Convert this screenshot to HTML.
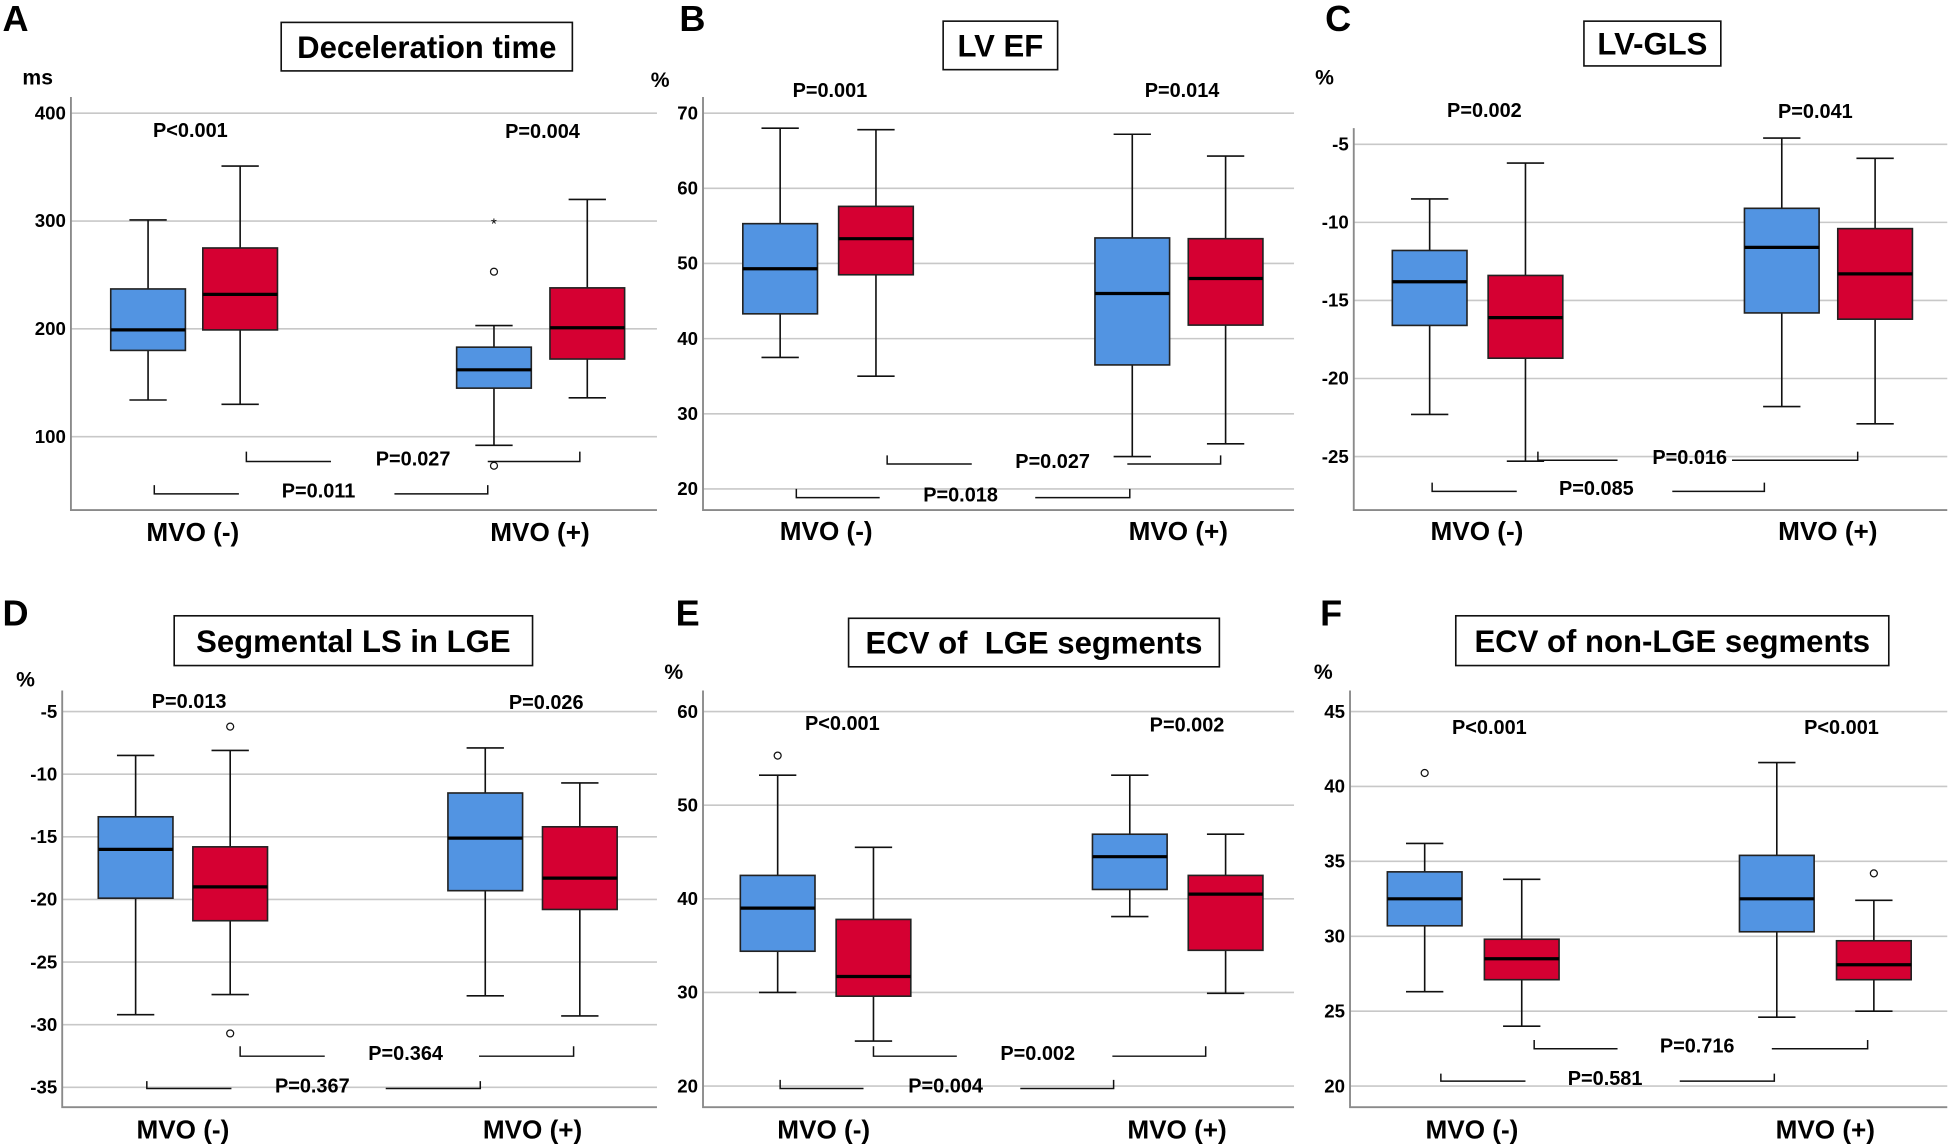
<!DOCTYPE html>
<html><head><meta charset="utf-8"><style>
html,body{margin:0;padding:0;background:#fff;}
svg{display:block;font-family:"Liberation Sans",Arial,sans-serif;font-weight:bold;}
text{white-space:pre;}
</style></head><body>
<svg id="fig" width="1951" height="1147" viewBox="0 0 1568 922" preserveAspectRatio="none" xmlns="http://www.w3.org/2000/svg"></svg>
<script>
// ---- data ----
const groups=["MVO (-)","MVO (+)"];
const ticksA=[100,200,300,400];
const blueA=[[134,180,199,237,301],[92,145,162,183,203]];
const redA=[[130,199,232,275,351],[136,172,201,238,320]];
const outA=[[1,0,253,"o"],[1,0,300,"*"],[1,0,73,"o"]];
const pA=["P<0.001","P=0.004","P=0.027","P=0.011"];

const ticksB=[20,30,40,50,60,70];
const blueB=[[37.5,43.3,49.3,55.3,68],[24.3,36.5,46,53.4,67.2]];
const redB=[[35,48.5,53.3,57.6,67.8],[26,41.8,48,53.3,64.3]];
const outB=[];
const pB=["P=0.001","P=0.014","P=0.027","P=0.018"];

const ticksC=[-25,-20,-15,-10,-5];
const blueC=[[-22.3,-16.6,-13.8,-11.8,-8.5],[-21.8,-15.8,-11.6,-9.1,-4.6]];
const redC=[[-25.3,-18.7,-16.1,-13.4,-6.2],[-22.9,-16.2,-13.3,-10.4,-5.9]];
const outC=[];
const pC=["P=0.002","P=0.041","P=0.016","P=0.085"];

const ticksD=[-35,-30,-25,-20,-15,-10,-5];
const blueD=[[-29.2,-19.9,-16,-13.4,-8.5],[-27.7,-19.3,-15.1,-11.5,-7.9]];
const redD=[[-27.6,-21.7,-19,-15.8,-8.1],[-29.3,-20.8,-18.3,-14.2,-10.7]];
const outD=[[0,1,-6.2,"o"],[0,1,-30.7,"o"]];
const pD=["P=0.013","P=0.026","P=0.364","P=0.367"];

const ticksE=[20,30,40,50,60];
const blueE=[[30,34.4,39,42.5,53.2],[38.1,41,44.5,46.9,53.2]];
const redE=[[24.8,29.6,31.7,37.8,45.5],[29.9,34.5,40.5,42.5,46.9]];
const outE=[[0,0,55.3,"o"]];
const pE=["P<0.001","P=0.002","P=0.002","P=0.004"];

const ticksF=[20,25,30,35,40,45];
const blueF=[[26.3,30.7,32.5,34.3,36.2],[24.6,30.3,32.5,35.4,41.6]];
const redF=[[24,27.1,28.5,29.8,33.8],[25,27.1,28.1,29.7,32.4]];
const outF=[[0,0,40.9,"o"],[1,1,34.2,"o"]];
const pF=["P<0.001","P<0.001","P=0.716","P=0.581"];

// ---- layout ----
const panels=[
 {id:"a",letter:"A",lx:2,ly:25,unit:"ms",ux:18,uy:68,title:"Deceleration time",tb:[226,18,234,39],x0:57,x1:528,yT:78,yB:410,ref:[100,351,400,91],cx:[[119,397],[193,472]],ticks:ticksA,blue:blueA,red:redA,out:outA,p:pA,
  pPos:[[153,110],[436,111]],br1:{a:198,b:266,c:392,d:466,y:371,h:8,tx:332},br2:{a:124,b:192,c:317,d:392,y:397,h:7,tx:256},mvoY:435,mvoX:[155,434]},
 {id:"b",letter:"B",lx:546,ly:25,unit:"%",ux:523,uy:70,title:"LV EF",tb:[758,17,92,39],x0:565,x1:1040,yT:78,yB:410,ref:[20,393,70,91],cx:[[627,910],[704,985]],ticks:ticksB,blue:blueB,red:redB,out:outB,p:pB,
  pPos:[[667,78],[950,78]],br1:{a:713,b:781,c:906,d:981,y:373,h:7,tx:846},br2:{a:640,b:707,c:832,d:908,y:400,h:7,tx:772},mvoY:434,mvoX:[664,947]},
 {id:"c",letter:"C",lx:1065,ly:25,unit:"%",ux:1057,uy:68,title:"LV-GLS",tb:[1273,17,110,36],x0:1088,x1:1565,yT:103,yB:410,ref:[-25,367,-5,116],cx:[[1149,1432],[1226,1507]],ticks:ticksC,blue:blueC,red:redC,out:outC,p:pC,
  pPos:[[1193,94],[1459,95]],br1:{a:1236,b:1300,c:1392,d:1493,y:370,h:7,tx:1358},br2:{a:1151,b:1219,c:1344,d:1418,y:395,h:7,tx:1283},mvoY:434,mvoX:[1187,1469]},
 {id:"d",letter:"D",lx:2,ly:503,unit:"%",ux:13,uy:552,title:"Segmental LS in LGE",tb:[140,495,288,40],x0:50,x1:528,yT:555,yB:890,ref:[-35,874,-5,572],cx:[[109,390],[185,466]],ticks:ticksD,blue:blueD,red:redD,out:outD,p:pD,
  pPos:[[152,569],[439,570]],br1:{a:193,b:261,c:385,d:461,y:849,h:8,tx:326},br2:{a:118,b:186,c:310,d:386,y:875,h:6,tx:251},mvoY:915,mvoX:[147,428]},
 {id:"e",letter:"E",lx:543,ly:503,unit:"%",ux:534,uy:546,title:"ECV of  LGE segments",tb:[682,497,298,39],x0:565,x1:1040,yT:555,yB:890,ref:[20,873,60,572],cx:[[625,908],[702,985]],ticks:ticksE,blue:blueE,red:redE,out:outE,p:pE,
  pPos:[[677,587],[954,588]],br1:{a:702,b:769,c:894,d:969,y:849,h:8,tx:834},br2:{a:627,b:694,c:820,d:895,y:875,h:7,tx:760},mvoY:915,mvoX:[662,946]},
 {id:"f",letter:"F",lx:1061,ly:503,unit:"%",ux:1056,uy:546,title:"ECV of non-LGE segments",tb:[1170,495,348,40],x0:1085,x1:1565,yT:555,yB:890,ref:[20,873,45,572],cx:[[1145,1428],[1223,1506]],ticks:ticksF,blue:blueF,red:redF,out:outF,p:pF,
  pPos:[[1197,590],[1480,590]],br1:{a:1233,b:1300,c:1424,d:1501,y:843,h:7,tx:1364},br2:{a:1158,b:1226,c:1350,d:1426,y:869,h:6,tx:1290},mvoY:915,mvoX:[1183,1467]}
];
const NS="http://www.w3.org/2000/svg";
const svg=document.getElementById("fig");
function mk(tag,attrs,parent,txt){const e=document.createElementNS(NS,tag);for(const k in attrs)e.setAttribute(k,attrs[k]);if(txt!==undefined)e.textContent=txt;parent.appendChild(e);return e;}
const BLUE="#5294e2",RED="#d50032";
panels.forEach(P=>{
 const g=mk("g",{},svg);
 
 
 const k=(P.ref[3]-P.ref[1])/(P.ref[2]-P.ref[0]);
 const y=v=>P.ref[1]+(v-P.ref[0])*k;
 let t=mk("text",{x:P.lx,y:P.ly,"font-size":29},g,P.letter);
 
 
 t=mk("text",{x:P.ux,y:P.uy,"font-size":17},g,P.unit);
 
 
 const tb=P.tb;
 let r=mk("rect",{x:tb[0],y:tb[1],width:tb[2],height:tb[3],fill:"#fff",stroke:"#111","stroke-width":1.3},g);
 
 
 t=mk("text",{x:tb[0]+tb[2]/2,y:tb[1]+tb[3]/2+9,"font-size":25,"text-anchor":"middle","xml:space":"preserve"},g,P.title);
 
 
 P.ticks.forEach(v=>{
  const l=mk("line",{x1:P.x0,x2:P.x1,y1:y(v),y2:y(v),stroke:"#c8c8c8","stroke-width":1.3},g);
  
  
  const tt=mk("text",{x:P.x0-4,y:y(v)+5,"font-size":15,"text-anchor":"end"},g,String(v));
  
  
 });
 let ax=mk("path",{d:`M${P.x0} ${P.yT}V${P.yB}H${P.x1}`,fill:"none",stroke:"#8a8a8a","stroke-width":1.5},g);
 
 
 [P.blue,P.red].forEach((ser,si)=>{
  ser.forEach((s,gi)=>{
   const c=P.cx[si][gi];
   const bg=mk("g",{},g);
   
   
   mk("path",{d:`M${c} ${y(s[4])}V${y(s[3])}M${c} ${y(s[1])}V${y(s[0])}M${c-15} ${y(s[4])}H${c+15}M${c-15} ${y(s[0])}H${c+15}`,stroke:"#111","stroke-width":1.3,fill:"none"},bg);
   mk("rect",{x:c-30,y:y(s[3]),width:60,height:y(s[1])-y(s[3]),fill:si?RED:BLUE,stroke:"#222","stroke-width":1.3},bg);
   mk("line",{x1:c-30,x2:c+30,y1:y(s[2]),y2:y(s[2]),stroke:"#000","stroke-width":2.6},bg);
  });
 });
 P.out.forEach(o=>{
  const c=P.cx[o[1]][o[0]];
  if(o[3]==="o"){const ci=mk("circle",{cx:c,cy:y(o[2]),r:2.8,fill:"#fff",stroke:"#111","stroke-width":1},g);
   }
  else{const st=mk("text",{x:c,y:y(o[2])+6,"font-size":12,"text-anchor":"middle","font-weight":"normal"},g,"*");
   }
 });
 P.pPos.forEach((pp,i)=>{
  const pt=mk("text",{x:pp[0],y:pp[1],"font-size":16,"text-anchor":"middle"},g,P.p[i]);
  
  
 });
 [P.br1,P.br2].forEach((b,i)=>{
  const bp=mk("path",{d:`M${b.a} ${b.y-b.h}V${b.y}H${b.b}M${b.c} ${b.y}H${b.d}V${b.y-b.h}`,fill:"none",stroke:"#111","stroke-width":1.2},g);
  
  
  const bt=mk("text",{x:b.tx,y:b.y+3,"font-size":16,"text-anchor":"middle"},g,P.p[2+i]);
  
  
 });
 groups.forEach((gn,i)=>{
  const ml=mk("text",{x:P.mvoX[i],y:P.mvoY,"font-size":21,"text-anchor":"middle"},g,gn);
  
  
 });
});
</script>
</body></html>
